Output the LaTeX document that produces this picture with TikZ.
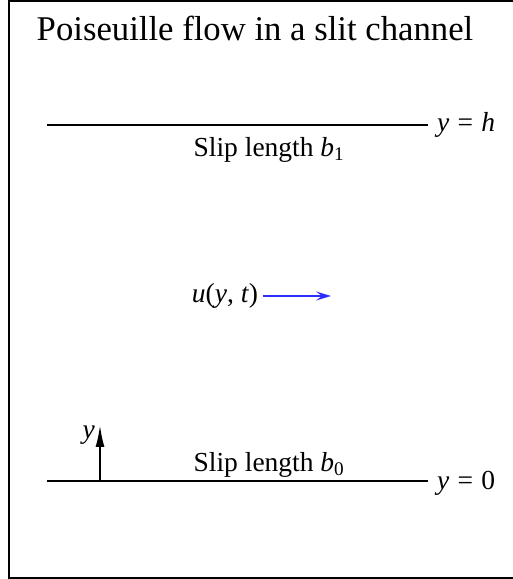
\documentclass[tikz,border=0pt]{standalone}
\usepackage{fontspec}
\setmainfont{Liberation Serif}
\usetikzlibrary{arrows.meta,positioning}

\begin{document}
\begin{tikzpicture}[
  x=1pt, y=1pt,
  wall/.style={line width=2.2pt},
  lbl/.style={inner sep=0pt, font=\fontsize{27.5}{32}\selectfont},
  arrow/.style={-{Latex[length=22pt,width=9pt]}, line width=2pt},
  flow/.style={-{Stealth[length=15pt,width=9pt,inset=6pt]}, line width=2pt, color=flowblue}
]
  \definecolor{flowblue}{RGB}{45,45,255}
  \newcommand{\eqsp}{\hspace{0.3em}=\hspace{0.3em}}
  \useasboundingbox (0,0) rectangle (513,579);
  % frame
  \draw[line width=1.8pt] (560,0.6) -- (8.6,0.6) -- (8.6,577.6) -- (560,577.6);
  \node[lbl, font=\fontsize{34.7}{40}\selectfont] (title) at (255,551) {Poiseuille flow in a slit channel};

  % channel walls
  \coordinate (top0) at (47,454);
  \coordinate (top1) at (428,454);
  \coordinate (bot0) at (47,98);
  \coordinate (bot1) at (428,98);
  \draw[wall] (top0) -- (top1);
  \draw[wall] (bot0) -- (bot1);
  \node[lbl, right=9pt of top1] (yh) {\textit{y}\eqsp\textit{h}};
  \node[lbl, right=9pt of bot1, yshift=-2pt] (y0) {\textit{y}\eqsp 0};
  \node[lbl] (slip1) at (269,429) {Slip length \textit{b}\textsubscript{1}};
  \node[lbl] (slip0) at (269,114) {Slip length \textit{b}\textsubscript{0}};

  % velocity
  \node[lbl] (u) at (225,283) {\textit{u}(\textit{y}, \textit{t})};
  \coordinate (uend) at (331,283);
  \draw[flow] ([xshift=5pt]u.east) -- (uend);

  % y axis
  \coordinate (yfoot) at (100,98);
  \coordinate (ytip) at (100,154);
  \draw[arrow] (yfoot) -- (ytip);
  \node[lbl, left=5pt of ytip, yshift=-10pt] (ylab) {\textit{y}};
\end{tikzpicture}
\end{document}
